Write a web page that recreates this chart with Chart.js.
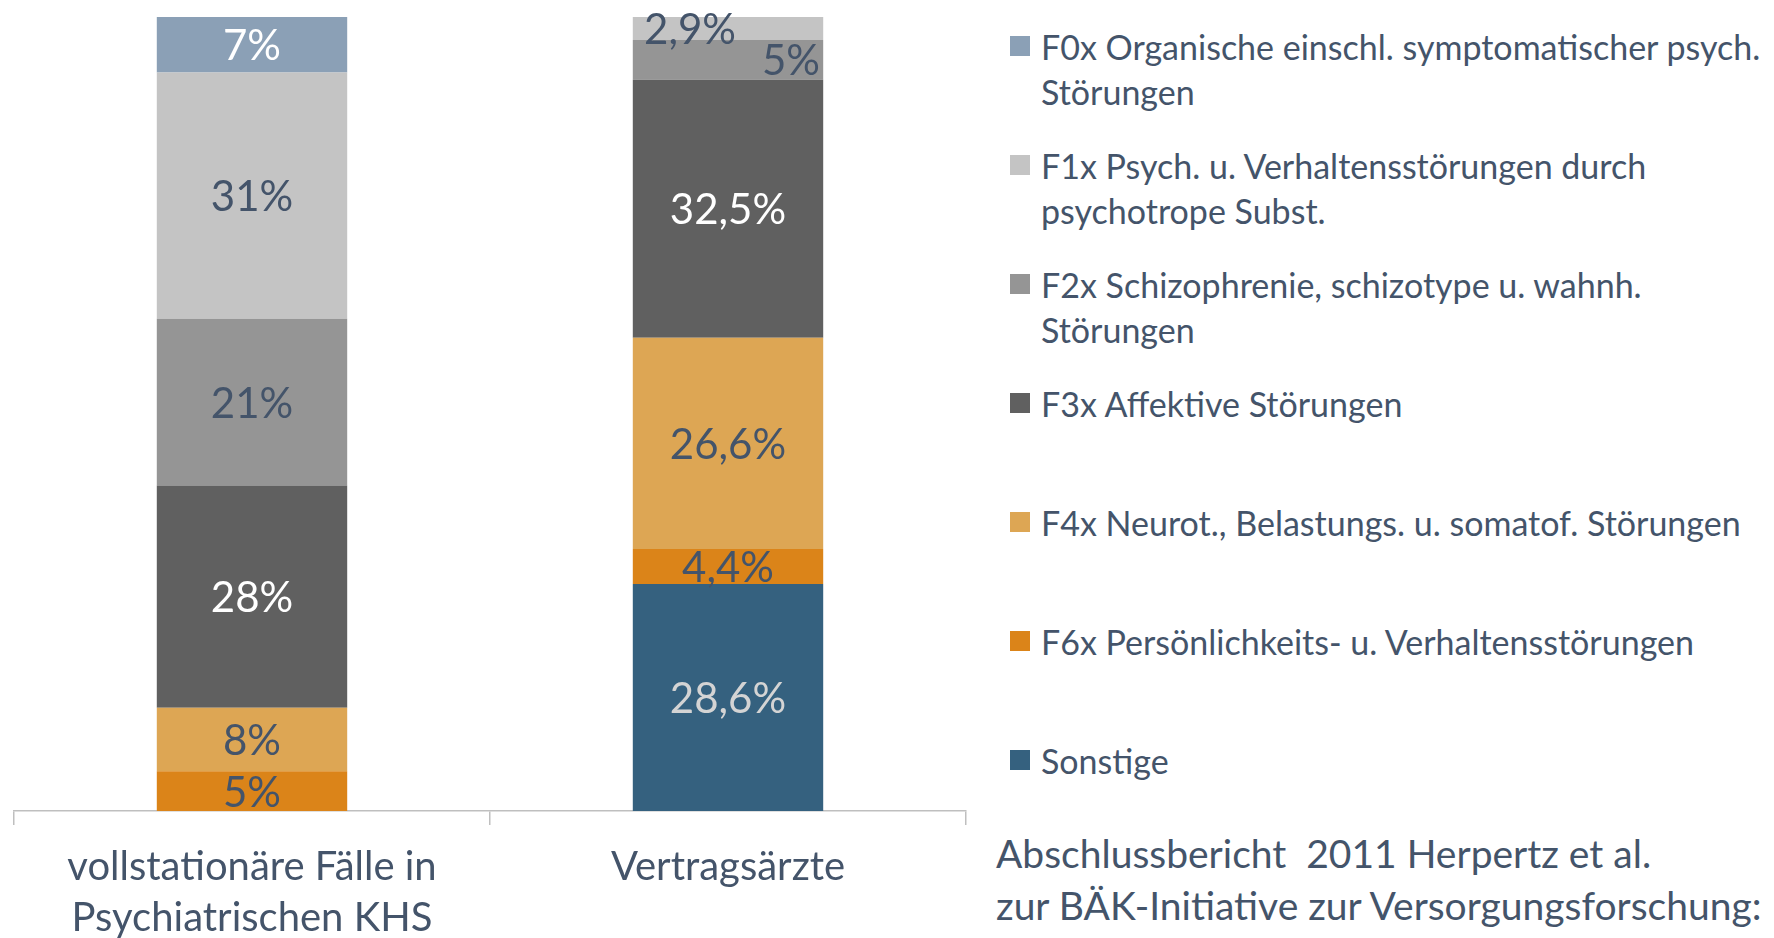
<!DOCTYPE html>
<html>
<head>
<meta charset="utf-8">
<script src="https://cdn.jsdelivr.net/npm/chart.js@4"></script>
<style>
  html, body { margin: 0; padding: 0; background: #fff; overflow: hidden; }
  body { width: 1774px; height: 938px; position: relative; font-family: Lato, "Open Sans", sans-serif; color: #44546A; }
  #chartBox { position: absolute; left: 0; top: 0; width: 980px; height: 978px; }
  #legend { position: absolute; left: 1010px; top: 0; }
  .leg-item { position: absolute; left: 0; white-space: nowrap; font-size: 34px; line-height: 45px; }
  .leg-item .sq { position: absolute; left: 0; top: 12px; width: 20px; height: 20px; }
  .leg-item .txt { position: absolute; left: 31px; top: 0; }
  #source { position: absolute; left: 996px; top: 827px; font-size: 39px; line-height: 52px; white-space: pre; }
</style>
</head>
<body>
<div id="chartBox"><canvas id="graphicFirst" width="980" height="978"></canvas></div>
<div id="legend"></div>
<div id="source">Abschlussbericht  2011 Herpertz et al.
zur BÄK-Initiative zur Versorgungsforschung:</div>

<script>
// Gestapelte Balken: Diagnosegruppen in Prozent

//-----DATA
const categories = [['vollstationäre Fälle in', 'Psychiatrischen KHS'], 'Vertragsärzte'];

const sonstige = [0, 28.6];
const f6x = [5, 4.4];
const f4x = [8, 26.6];
const f3x = [28, 32.5];
const f2x = [21, 5];
const f1x = [31, 2.9];
const f0x = [7, 0];

const seriesLabels = [
  ['Sonstige'],
  ['F6x Persönlichkeits- u. Verhaltensstörungen'],
  ['F4x Neurot., Belastungs. u. somatof. Störungen'],
  ['F3x Affektive Störungen'],
  ['F2x Schizophrenie, schizotype u. wahnh.', 'Störungen'],
  ['F1x Psych. u. Verhaltensstörungen durch', 'psychotrope Subst.'],
  ['F0x Organische einschl. symptomatischer psych.', 'Störungen'],
];
const seriesData = [sonstige, f6x, f4x, f3x, f2x, f1x, f0x];

//-----STYLES
const seriesColors = ['#35617F', '#DB8419', '#DDA654', '#606060', '#959595', '#C4C4C4', '#8BA0B6'];
const textColor = '#44546A';
// label colour per series and bar
const labelColors = [
  ['#D4D4D4', '#D4D4D4'],
  [textColor, textColor],
  [textColor, textColor],
  ['#FFFFFF', '#FFFFFF'],
  [textColor, textColor],
  [textColor, textColor],
  ['#FFFFFF', '#FFFFFF'],
];
// horizontal shifts of some labels (px)
const labelShift = [
  [0, 0], [0, 0], [0, 0], [0, 0], [0, 63], [0, -38], [0, 0],
];

function fmtValue(v){
  return String(v).replace('.', ',') + '%';
}

//-----LABEL PLUGIN
const barLabels = {
  id: 'barLabels',
  afterDatasetsDraw(chart){
    const ctx = chart.ctx;
    ctx.save();
    ctx.font = '42px Lato';
    ctx.textAlign = 'center';
    ctx.textBaseline = 'middle';
    chart.data.datasets.forEach((ds, i) => {
      const meta = chart.getDatasetMeta(i);
      meta.data.forEach((bar, j) => {
        const v = ds.data[j];
        if (!v) return;
        const p = bar.getProps(['x', 'y', 'base'], true);
        ctx.fillStyle = labelColors[i][j];
        ctx.fillText(fmtValue(v), p.x + labelShift[i][j], (p.y + p.base) / 2 + 2);
      });
    });
    ctx.restore();
  }
};

//-----CHART
let chart1;
function getDrawGraphicFirst(){
  const ctx = document.getElementById('graphicFirst').getContext('2d');
  if (chart1) {
    chart1.destroy();
  }
  chart1 = new Chart(ctx, {
    type: 'bar',
    data: {
      labels: categories,
      datasets: seriesData.map((d, i) => ({
        label: seriesLabels[i].join(' '),
        data: d,
        backgroundColor: seriesColors[i],
        borderWidth: 0,
        categoryPercentage: 1,
        barPercentage: 0.4,
      })),
    },
    options: {
      responsive: false,
      animation: false,
      layout: { padding: { left: 14, right: 14, top: 17, bottom: 17 } },
      plugins: {
        legend: { display: false },
        tooltip: { enabled: false },
      },
      scales: {
        x: {
          stacked: true,
          grid: { drawOnChartArea: false, drawTicks: true, tickLength: 14, color: '#BFBFBF', lineWidth: 1.5 },
          border: { display: true, color: '#BFBFBF', width: 1.5 },
          ticks: { color: textColor, font: { family: 'Lato', size: 40, lineHeight: 51 / 40 }, padding: 17, maxRotation: 0 },
        },
        y: {
          stacked: true,
          display: false,
          min: 0,
          max: 100,
        },
      },
    },
    plugins: [barLabels],
  });
}

//-----LEGEND
function drawLegend(){
  const box = document.getElementById('legend');
  const order = seriesLabels.map((_, i) => i).reverse();
  order.forEach((idx, row) => {
    const item = document.createElement('div');
    item.className = 'leg-item';
    item.style.top = (46 + row * 119 - 22) + 'px';
    const sq = document.createElement('div');
    sq.className = 'sq';
    sq.style.background = seriesColors[idx];
    const txt = document.createElement('div');
    txt.className = 'txt';
    txt.innerHTML = seriesLabels[idx].join('<br>');
    item.appendChild(sq);
    item.appendChild(txt);
    box.appendChild(item);
  });
}

getDrawGraphicFirst();
drawLegend();
</script>
</body>
</html>
